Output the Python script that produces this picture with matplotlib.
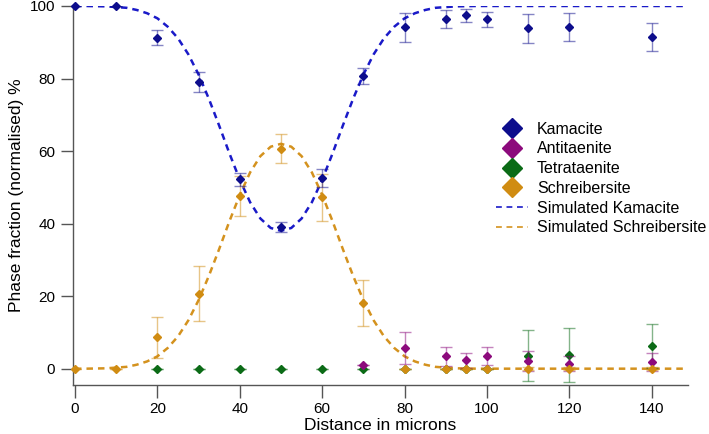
import matplotlib
matplotlib.use("Agg")
import matplotlib.pyplot as plt
from matplotlib.lines import Line2D

plt.rcParams['font.family'] = ['Liberation Sans', 'DejaVu Sans']

# Measured data
kam_x = [0, 10, 20, 30, 40, 50, 60, 70, 80, 90, 95, 100, 110, 120, 140]
kam_y = [100, 100, 91.3, 79.1, 52.2, 39.1, 52.6, 80.7, 94.2, 96.4, 97.4, 96.3, 93.8, 94.3, 91.5]
kam_e = [0, 0, 2.0, 2.8, 1.8, 1.3, 2.4, 2.3, 4.0, 2.4, 1.8, 2.1, 3.9, 3.9, 3.9]

ant_x = [70, 80, 90, 95, 100, 110, 120, 140]
ant_y = [1.0, 5.6, 3.4, 2.3, 3.4, 2.2, 1.4, 1.8]
ant_e = [0, 4.4, 2.6, 2.0, 2.5, 2.8, 2.0, 2.4]

tet_x = [20, 30, 40, 50, 60, 70, 80, 90, 95, 100, 110, 120, 140]
tet_y = [0, 0, 0, 0, 0, 0, 0, 0, 0, 0, 3.6, 3.8, 6.2]
tet_e = [0, 0, 0, 0, 0, 0, 0, 0, 0, 0, 7.0, 7.5, 6.0]

sch_x = [0, 10, 20, 30, 40, 50, 60, 70, 80, 90, 95, 100, 110, 120, 140]
sch_y = [0, 0, 8.6, 20.7, 47.6, 60.6, 47.2, 18.2, 0, 0, 0, 0, 0, 0, 0]
sch_e = [0, 0, 5.7, 7.6, 5.5, 4.0, 6.4, 6.3, 0, 0, 0, 0, 0.5, 0.5, 0.5]

# Simulated profiles
sim_x = [0, 2.5, 5, 7.5, 10, 12.5, 15, 17.5, 20, 22.5, 25, 27.5, 30, 32.5, 35,
         37.5, 40, 42.5, 45, 47.5, 50, 52.5, 55, 57.5, 60, 62.5, 65, 67.5, 70,
         72.5, 75, 77.5, 80, 82.5, 85, 87.5, 90, 92.5, 95, 97.5, 100, 148]
sim_sch = [0.0, 0.0, 0.05, 0.1, 0.3, 0.5, 1.1, 2.0, 3.4, 5.7, 8.9, 13.3, 18.9, 25.6, 33.0,
           40.7, 47.9, 54.1, 58.6, 61.2, 62.0, 61.2, 58.6, 54.1, 47.9, 40.7, 33.0, 25.6, 18.9,
           13.3, 8.9, 5.7, 3.4, 2.0, 1.1, 0.5, 0.3, 0.1, 0.05, 0.0, 0.0, 0.0]
sim_kam = [100.0, 100.0, 99.95, 99.9, 99.7, 99.5, 98.9, 98.0, 96.6, 94.3, 91.1, 86.7, 81.1, 74.4, 67.0,
           59.3, 52.1, 45.9, 41.4, 38.8, 38.0, 38.8, 41.4, 45.9, 52.1, 59.3, 67.0, 74.4, 81.1,
           86.7, 91.1, 94.3, 96.6, 98.0, 98.9, 99.5, 99.7, 99.9, 99.95, 100.0, 100.0, 100.0]

c_kam = "#0d0d8c"
c_ant = "#8c0a7c"
c_tet = "#0b6b16"
c_sch = "#d08c12"
c_simk = "#1a1ac8"
c_sims = "#d4921e"

fig = plt.figure(figsize=(7.09, 4.34), dpi=100)
ax = fig.add_axes([0.1025, 0.1129, 0.868, 0.8733])

ax.plot(sim_x, sim_kam, color=c_simk, lw=1.8, dashes=(2.6, 2.0), zorder=2)
ax.plot(sim_x, sim_sch, color=c_sims, lw=1.8, dashes=(2.6, 2.0), zorder=2)

def series(x, y, e, c, z):
    ax.errorbar(x, y, yerr=e, fmt='none', ecolor=c, elinewidth=1.0, capsize=4,
                capthick=1.0, alpha=0.5, zorder=z)
    ax.plot(x, y, 'D', color=c, ms=4.5, mec=c, ls='none', zorder=z + 0.5, clip_on=False)

series(tet_x, tet_y, tet_e, c_tet, 3)
series(ant_x, ant_y, ant_e, c_ant, 4)
series(sch_x, sch_y, sch_e, c_sch, 5)
series(kam_x, kam_y, kam_e, c_kam, 6)

ax.set_xlim(-0.56, 148.8)
ax.set_ylim(-4.5, 100)
ax.set_xticks([0, 20, 40, 60, 80, 100, 120, 140])
ax.set_yticks([0, 20, 40, 60, 80, 100])
for s in ['top', 'right']:
    ax.spines[s].set_visible(False)
for s in ['left', 'bottom']:
    ax.spines[s].set_color('#555555')
    ax.spines[s].set_linewidth(1.0)
ax.tick_params(direction='out', length=9, width=1.0, color='#555555', labelsize=11)

ax.set_xlabel("Distance in microns", fontsize=12.5, labelpad=1)
ax.set_ylabel("Phase fraction (normalised) %", fontsize=12.5, labelpad=4)

handles = [
    Line2D([], [], marker='D', color=c_kam, ls='none', ms=10),
    Line2D([], [], marker='D', color=c_ant, ls='none', ms=10),
    Line2D([], [], marker='D', color=c_tet, ls='none', ms=10),
    Line2D([], [], marker='D', color=c_sch, ls='none', ms=10),
    Line2D([], [], color=c_simk, lw=1.2, dashes=(3.5, 2.8)),
    Line2D([], [], color=c_sims, lw=1.2, dashes=(3.5, 2.8)),
]
labels = ["Kamacite", "Antitaenite", "Tetrataenite", "Schreibersite",
          "Simulated Kamacite", "Simulated Schreibersite"]
leg = ax.legend(handles, labels, loc='upper left', bbox_to_anchor=(0.678, 0.712),
                frameon=False, fontsize=11.5, handlelength=2.0, handletextpad=0.55,
                labelspacing=0.3, borderaxespad=0)

fig.savefig("out.png", dpi=100)
